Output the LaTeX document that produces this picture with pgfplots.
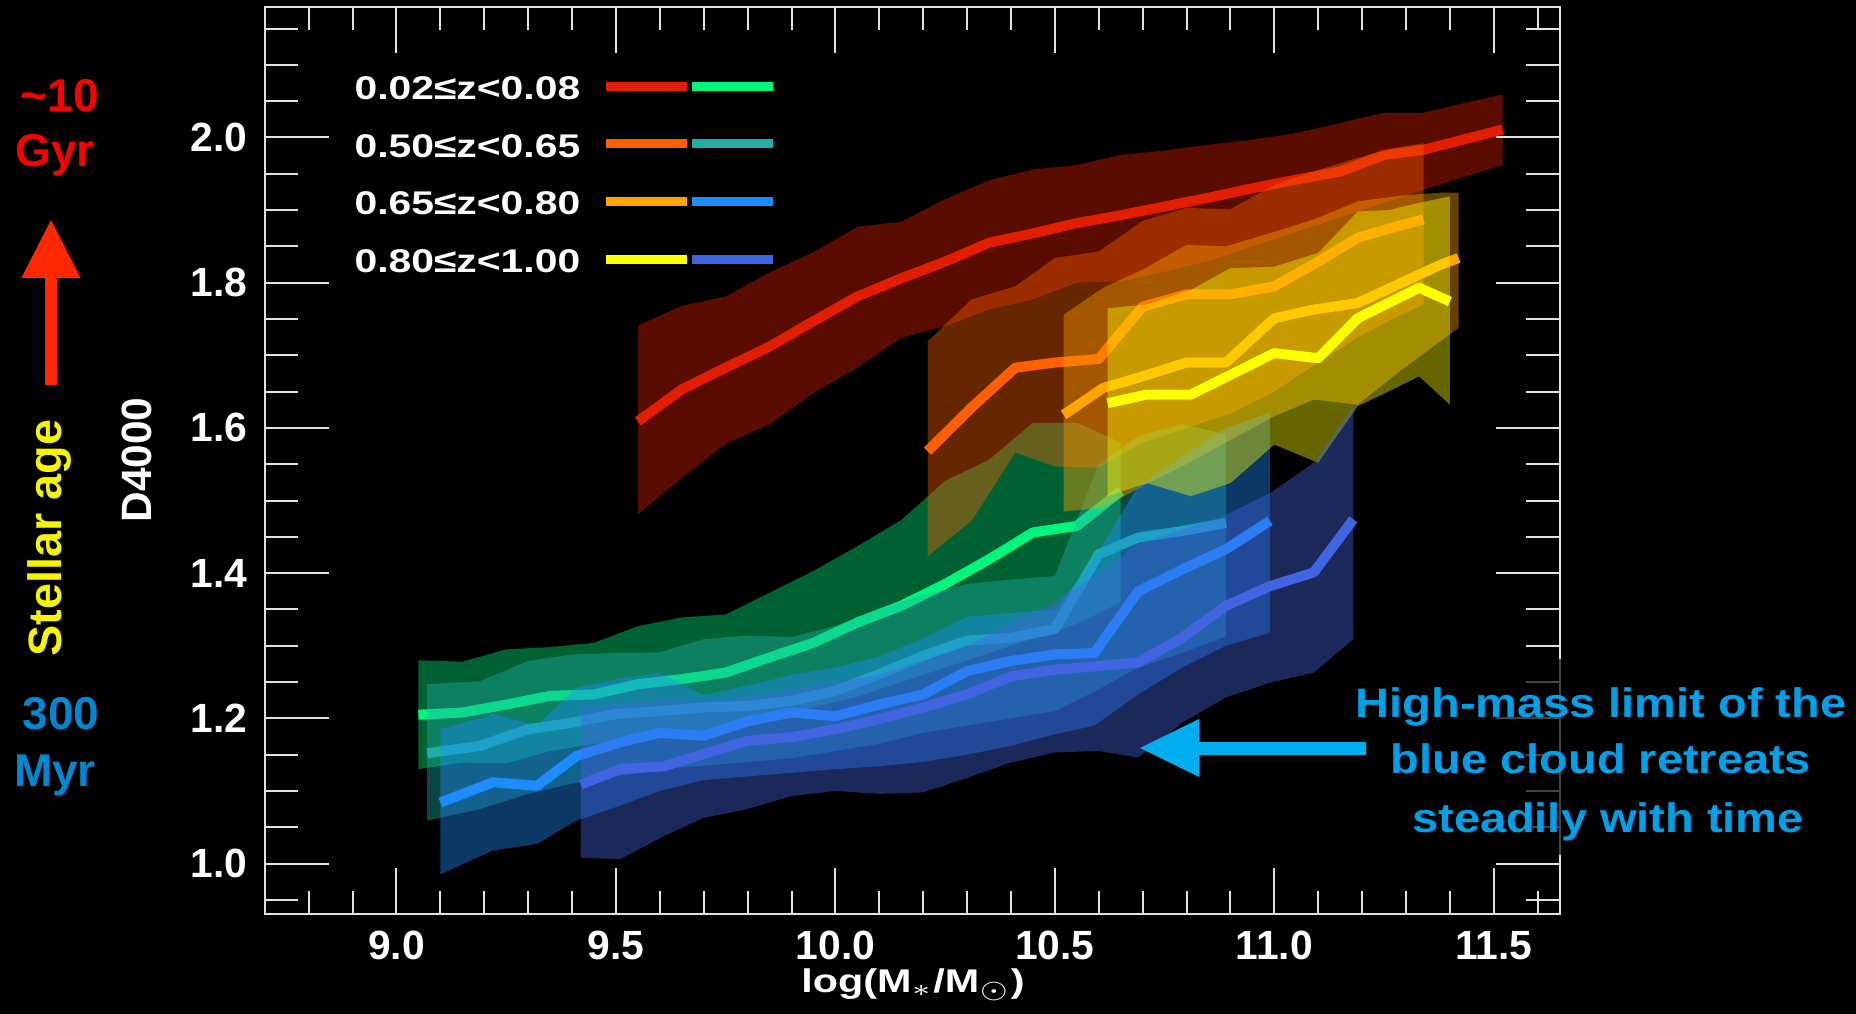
\documentclass[border=0pt]{standalone}
\usepackage{pgfplots}
\pgfplotsset{compat=1.18}
\usepackage{fontspec}
\setmainfont{Liberation Sans}
\definecolor{cRed}{RGB}{225,30,0}
\definecolor{cGreen}{RGB}{0,245,125}
\definecolor{cOrR}{RGB}{255,95,0}
\definecolor{cTeal}{RGB}{30,175,165}
\definecolor{cOrange}{RGB}{255,165,0}
\definecolor{cBlue}{RGB}{30,140,255}
\definecolor{cYellow}{RGB}{255,255,0}
\definecolor{cNavy}{RGB}{65,100,225}
\definecolor{cAnn}{RGB}{0,160,232}
\definecolor{cArr}{RGB}{0,174,239}
\definecolor{cGyr}{RGB}{250,0,0}
\definecolor{cMyr}{RGB}{0,135,208}
\definecolor{cAge}{RGB}{245,245,0}
\definecolor{cRedArr}{RGB}{255,40,0}
\definecolor{cAxis}{RGB}{225,225,225}
\begin{document}
\begin{tikzpicture}
\fill[black] (0,0) rectangle (464pt,253.5pt);
\begin{axis}[at={(66.2pt,24.9pt)}, anchor=south west, scale only axis,
  width=323.7pt, height=226.9pt,
  xmin=8.7, xmax=11.65, ymin=0.93, ymax=2.18,
  axis line style={draw=cAxis, line width=0.5pt},
  tick style={draw=cAxis, line width=0.5pt},
  tick align=inside, xtick pos=both, xticklabel pos=lower,
  xtick={9.0,9.5,10.0,10.5,11.0,11.5},
  xticklabels={9.0,9.5,10.0,10.5,11.0,11.5},
  minor xtick={8.8,8.9,9.1,9.2,9.3,9.4,9.6,9.7,9.8,9.9,10.1,10.2,10.3,10.4,10.6,10.7,10.8,10.9,11.1,11.2,11.3,11.4,11.6},
  ytick=\empty,
  major tick length=11.5pt, minor tick length=5.75pt,
  xticklabel style={font=\bfseries\fontsize{10.2}{12}\selectfont, text=white, inner sep=0pt, yshift=-4pt},
  no markers]
% ---- series 1: 0.02<=z<0.08 red
\addplot[draw=none, fill=cRed, fill opacity=0.4] coordinates {(9.55,1.741)(9.65,1.768)(9.75,1.781)(9.85,1.814)(9.95,1.842)(10.05,1.877)(10.15,1.884)(10.25,1.915)(10.35,1.941)(10.45,1.956)(10.55,1.962)(10.65,1.976)(10.75,1.982)(10.85,1.990)(10.95,1.997)(11.05,2.006)(11.15,2.020)(11.25,2.034)(11.34,2.034)(11.43,2.047)(11.52,2.059)
(11.52,1.962)(11.43,1.945)(11.34,1.928)(11.25,1.910)(11.15,1.890)(11.05,1.870)(10.95,1.850)(10.85,1.830)(10.75,1.815)(10.65,1.802)(10.55,1.800)(10.45,1.777)(10.35,1.763)(10.25,1.740)(10.15,1.724)(10.05,1.683)(9.95,1.648)(9.85,1.605)(9.75,1.578)(9.65,1.531)(9.55,1.481)} -- cycle;
\addplot[cRed, line width=2.5pt, line join=round] coordinates {(9.55,1.609)(9.65,1.653)(9.75,1.683)(9.85,1.712)(9.95,1.747)(10.05,1.781)(10.15,1.806)(10.25,1.829)(10.35,1.855)(10.45,1.868)(10.55,1.882)(10.65,1.893)(10.75,1.905)(10.85,1.917)(10.95,1.930)(11.05,1.942)(11.15,1.953)(11.25,1.976)(11.34,1.983)(11.43,1.997)(11.52,2.011)};
% ---- series 2: 0.02<=z<0.08 green
\addplot[draw=none, fill=cGreen, fill opacity=0.4] coordinates {(9.05,1.280)(9.15,1.278)(9.25,1.295)(9.35,1.298)(9.45,1.304)(9.55,1.327)(9.65,1.339)(9.75,1.343)(9.85,1.373)(9.95,1.403)(10.05,1.437)(10.15,1.473)(10.25,1.527)(10.35,1.556)(10.45,1.607)(10.55,1.607)(10.65,1.580)
(10.65,1.360)(10.55,1.330)(10.45,1.310)(10.35,1.290)(10.25,1.270)(10.15,1.250)(10.05,1.230)(9.95,1.215)(9.85,1.200)(9.75,1.185)(9.65,1.180)(9.55,1.175)(9.45,1.165)(9.35,1.155)(9.25,1.138)(9.15,1.139)(9.05,1.130)} -- cycle;
\addplot[cGreen, line width=2.5pt, line join=round] coordinates {(9.05,1.205)(9.15,1.208)(9.25,1.219)(9.35,1.231)(9.45,1.233)(9.55,1.247)(9.65,1.254)(9.75,1.263)(9.85,1.284)(9.95,1.304)(10.05,1.332)(10.15,1.355)(10.25,1.385)(10.35,1.419)(10.45,1.456)(10.55,1.465)(10.65,1.513)};
% ---- series 3: 0.50<=z<0.65 orange-red
\addplot[draw=none, fill=cOrR, fill opacity=0.4] coordinates {(10.21,1.719)(10.31,1.777)(10.41,1.795)(10.50,1.834)(10.60,1.843)(10.70,1.885)(10.80,1.903)(10.90,1.901)(11.00,1.935)(11.10,1.955)(11.19,1.972)(11.27,1.985)(11.34,1.992)
(11.34,1.770)(11.27,1.750)(11.19,1.725)(11.10,1.690)(11.00,1.650)(10.90,1.620)(10.80,1.600)(10.70,1.580)(10.60,1.545)(10.50,1.547)(10.41,1.566)(10.31,1.472)(10.21,1.423)} -- cycle;
\addplot[cOrR, line width=2.5pt, line join=round] coordinates {(10.21,1.568)(10.31,1.628)(10.41,1.683)(10.50,1.690)(10.60,1.695)(10.70,1.767)(10.80,1.784)(10.90,1.784)(11.00,1.795)(11.10,1.829)(11.19,1.862)(11.27,1.876)(11.34,1.887)};
% ---- series 4: 0.50<=z<0.65 teal
\addplot[draw=none, fill=cTeal, fill opacity=0.4] coordinates {(9.07,1.247)(9.19,1.251)(9.30,1.279)(9.40,1.288)(9.50,1.290)(9.60,1.291)(9.70,1.309)(9.80,1.314)(9.90,1.312)(10.00,1.327)(10.10,1.350)(10.20,1.370)(10.30,1.385)(10.40,1.391)(10.50,1.396)(10.60,1.550)(10.69,1.589)(10.79,1.605)(10.89,1.591)
(10.89,1.313)(10.79,1.290)(10.69,1.270)(10.60,1.240)(10.50,1.210)(10.40,1.200)(10.30,1.190)(10.20,1.180)(10.10,1.165)(10.00,1.155)(9.90,1.145)(9.80,1.140)(9.70,1.135)(9.60,1.130)(9.50,1.120)(9.40,1.110)(9.30,1.096)(9.19,1.075)(9.07,1.059)} -- cycle;
\addplot[cTeal, line width=2.5pt, line join=round] coordinates {(9.07,1.152)(9.19,1.162)(9.30,1.185)(9.40,1.194)(9.50,1.206)(9.60,1.210)(9.70,1.215)(9.80,1.217)(9.90,1.224)(10.00,1.238)(10.10,1.261)(10.20,1.286)(10.30,1.307)(10.40,1.311)(10.50,1.323)(10.60,1.426)(10.69,1.449)(10.79,1.458)(10.89,1.469)};
% ---- series 5: 0.65<=z<0.80 orange
\addplot[draw=none, fill=cOrange, fill opacity=0.4] coordinates {(10.52,1.756)(10.61,1.793)(10.70,1.818)(10.80,1.852)(10.89,1.850)(11.00,1.870)(11.09,1.887)(11.19,1.912)(11.29,1.920)(11.38,1.924)(11.42,1.924)
(11.42,1.738)(11.38,1.720)(11.29,1.680)(11.19,1.632)(11.09,1.639)(11.00,1.616)(10.89,1.580)(10.80,1.550)(10.70,1.520)(10.61,1.490)(10.52,1.485)} -- cycle;
\addplot[cOrange, line width=2.5pt, line join=round] coordinates {(10.52,1.618)(10.61,1.655)(10.70,1.671)(10.80,1.690)(10.89,1.690)(11.00,1.751)(11.09,1.763)(11.19,1.772)(11.29,1.800)(11.38,1.825)(11.42,1.834)};
% ---- series 6: 0.65<=z<0.80 blue
\addplot[draw=none, fill=cBlue, fill opacity=0.4] coordinates {(9.10,1.185)(9.22,1.206)(9.32,1.190)(9.41,1.242)(9.51,1.255)(9.60,1.262)(9.70,1.232)(9.80,1.245)(9.90,1.260)(10.00,1.270)(10.10,1.285)(10.20,1.310)(10.30,1.340)(10.40,1.345)(10.50,1.350)(10.59,1.420)(10.69,1.520)(10.79,1.560)(10.89,1.600)(10.99,1.621)
(10.99,1.318)(10.89,1.300)(10.79,1.270)(10.69,1.233)(10.59,1.190)(10.50,1.178)(10.40,1.162)(10.30,1.150)(10.20,1.140)(10.10,1.134)(10.00,1.130)(9.90,1.125)(9.80,1.120)(9.70,1.115)(9.60,1.100)(9.51,1.080)(9.41,1.059)(9.32,1.027)(9.22,1.018)(9.10,0.985)} -- cycle;
\addplot[cBlue, line width=2.5pt, line join=round] coordinates {(9.10,1.084)(9.22,1.112)(9.32,1.107)(9.41,1.148)(9.51,1.167)(9.60,1.180)(9.70,1.176)(9.80,1.196)(9.90,1.208)(10.00,1.203)(10.10,1.219)(10.20,1.233)(10.30,1.265)(10.40,1.279)(10.50,1.288)(10.59,1.290)(10.69,1.375)(10.79,1.405)(10.89,1.433)(10.99,1.472)};
% ---- series 7: 0.80<=z<1.00 yellow
\addplot[draw=none, fill=cYellow, fill opacity=0.4] coordinates {(10.62,1.765)(10.71,1.770)(10.81,1.790)(10.90,1.820)(11.00,1.822)(11.10,1.841)(11.19,1.898)(11.26,1.900)(11.33,1.910)(11.40,1.919)
(11.40,1.632)(11.33,1.671)(11.26,1.650)(11.19,1.630)(11.10,1.552)(11.00,1.577)(10.90,1.524)(10.81,1.506)(10.71,1.524)(10.62,1.506)} -- cycle;
\addplot[cYellow, line width=2.5pt, line join=round] coordinates {(10.62,1.634)(10.71,1.646)(10.81,1.646)(10.90,1.673)(11.00,1.703)(11.10,1.696)(11.19,1.751)(11.26,1.772)(11.33,1.793)(11.40,1.774)};
% ---- series 8: 0.80<=z<1.00 royal blue
\addplot[draw=none, fill=cNavy, fill opacity=0.4] coordinates {(9.42,1.215)(9.51,1.220)(9.61,1.225)(9.70,1.225)(9.80,1.230)(9.90,1.240)(10.00,1.250)(10.10,1.260)(10.20,1.280)(10.30,1.300)(10.40,1.330)(10.50,1.360)(10.60,1.400)(10.69,1.440)(10.79,1.460)(10.89,1.480)(10.99,1.510)(11.09,1.552)(11.18,1.630)
(11.18,1.309)(11.09,1.263)(10.99,1.249)(10.89,1.229)(10.79,1.194)(10.69,1.146)(10.60,1.155)(10.50,1.153)(10.40,1.139)(10.30,1.118)(10.20,1.098)(10.10,1.096)(10.00,1.100)(9.90,1.093)(9.80,1.075)(9.70,1.063)(9.61,1.038)(9.51,1.006)(9.42,1.008)} -- cycle;
\addplot[cNavy, line width=2.5pt, line join=round] coordinates {(9.42,1.109)(9.51,1.130)(9.61,1.134)(9.70,1.151)(9.80,1.169)(9.90,1.174)(10.00,1.185)(10.10,1.199)(10.20,1.215)(10.30,1.233)(10.40,1.258)(10.50,1.267)(10.60,1.272)(10.69,1.277)(10.79,1.311)(10.89,1.355)(10.99,1.382)(11.09,1.401)(11.18,1.474)};
\end{axis}
\begin{axis}[at={(66.2pt,24.9pt)}, anchor=south west, scale only axis,
  width=323.7pt, height=226.9pt,
  xmin=8.7, xmax=11.65, ymin=0.93, ymax=2.18,
  axis line style={draw=cAxis, line width=0.5pt},
  tick style={draw=cAxis, line width=0.5pt},
  tick align=inside, ytick pos=both, yticklabel pos=left,
  xtick=\empty,
  ytick={1.0,1.2,1.4,1.6,1.8,2.0},
  yticklabels={1.0,1.2,1.4,1.6,1.8,2.0},
  minor ytick={0.95,1.05,1.10,1.15,1.25,1.30,1.35,1.45,1.50,1.55,1.65,1.70,1.75,1.85,1.90,1.95,2.05,2.10,2.15},
  major tick length=16pt, minor tick length=8.3pt,
  yticklabel style={font=\bfseries\fontsize{10.2}{12}\selectfont, text=white, xshift=-0.9pt}]
\end{axis}
\begin{scope}[x=0.25pt, y=-0.25pt, shift={(0,253.5pt)}]
% legend
\foreach \yy/\tt/\ca/\cb in {88.5/{0.02≤z<0.08}/cRed/cGreen, 145.8/{0.50≤z<0.65}/cOrR/cTeal, 203.5/{0.65≤z<0.80}/cOrange/cBlue, 261.5/{0.80≤z<1.00}/cYellow/cNavy}{
  \node[anchor=west, xscale=1.245, inner sep=0pt, text=white, font=\bfseries\fontsize{8.2}{10}\selectfont] at (353.6,\yy) {\tt};
  \draw[\ca, line width=2.25pt] (606,\yy-2) -- (687,\yy-2);
  \draw[\cb, line width=2.25pt] (692,\yy-2) -- (773,\yy-2);
}
% axis labels
\node[anchor=base, xscale=1.26, inner sep=0pt, text=white, font=\bfseries\fontsize{8.2}{10}\selectfont] at (913,993) {log(M$_*$/M$_{\odot}$)};
\node[rotate=90, inner sep=0pt, text=white, font=\bfseries\fontsize{10.6}{12}\selectfont] at (137,460) {D4000};
% left annotations
\node[anchor=base, inner sep=0pt, text=cGyr, font=\bfseries\fontsize{11.5}{13}\selectfont] at (60,112) {\textasciitilde10};
\node[anchor=base, inner sep=0pt, text=cGyr, font=\bfseries\fontsize{11.5}{13}\selectfont] at (55,167) {Gyr};
\node[anchor=base, inner sep=0pt, text=cMyr, font=\bfseries\fontsize{11.5}{13}\selectfont] at (61,730) {300};
\node[anchor=base, inner sep=0pt, text=cMyr, font=\bfseries\fontsize{11.5}{13}\selectfont] at (55,787) {Myr};
\node[rotate=90, inner sep=0pt, text=cAge, font=\bfseries\fontsize{11.7}{13}\selectfont] at (50,538) {Stellar age};
\fill[cRedArr] (51,220) -- (80.6,278) -- (57,278) -- (57,385) -- (45,385) -- (45,278) -- (21.4,278) -- cycle;
% right annotation
\fill[black, opacity=0.7] (1350,659) rectangle (1856,855);
\fill[cArr] (1140,748) -- (1199,719) -- (1199,742) -- (1366,742) -- (1366,755) -- (1199,755) -- (1199,777) -- cycle;
\node[anchor=base, xscale=1.14, inner sep=0pt, text=cAnn, font=\bfseries\fontsize{10.3}{12}\selectfont] at (1601,718) {High-mass limit of the};
\node[anchor=base, xscale=1.14, inner sep=0pt, text=cAnn, font=\bfseries\fontsize{10.3}{12}\selectfont] at (1601,774) {blue cloud retreats};
\node[anchor=base, xscale=1.14, inner sep=0pt, text=cAnn, font=\bfseries\fontsize{10.3}{12}\selectfont] at (1608,833) {steadily with time};
\end{scope}
\pgfresetboundingbox
\path[use as bounding box] (0,0) rectangle (464pt,253.5pt);
\end{tikzpicture}
\end{document}
